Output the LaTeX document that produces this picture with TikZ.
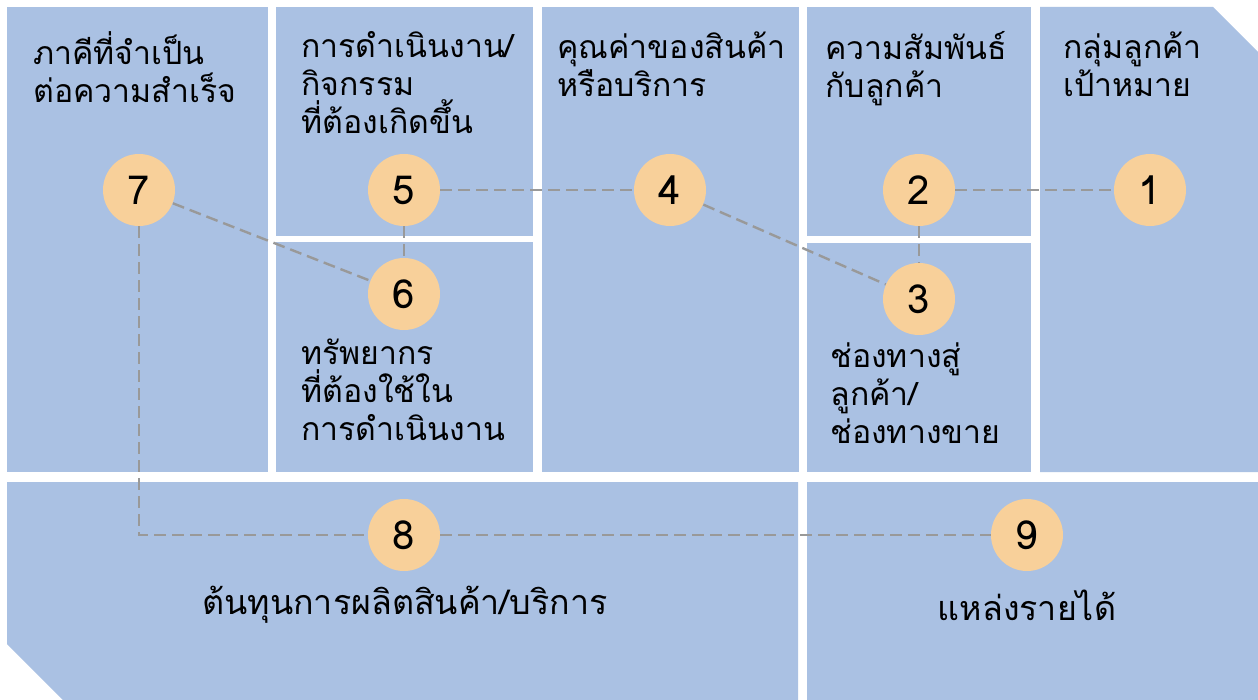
\documentclass[tikz,border=0pt]{standalone}
\usepackage{fontspec}
\setmainfont[Script=Thai]{Loma}
\usetikzlibrary{positioning}
\definecolor{boxblue}{HTML}{AAC1E3}
\definecolor{numfill}{HTML}{F8D09A}
\definecolor{linkgray}{HTML}{999999}

\begin{document}
\begin{tikzpicture}[x=0.5pt, y=-0.5pt,
    block/.style = {fill=boxblue},
    num/.style = {draw=none, circle, fill=numfill, minimum size=36pt, inner sep=0pt, font=\fontsize{20}{20}\selectfont},
    title/.style = {anchor=north west, inner sep=0pt, align=left, font=\fontsize{16}{19}\selectfont},
    link/.style = {draw=linkgray, line width=1.2pt, dash pattern=on 6pt off 3pt}]
          \useasboundingbox (0,0) rectangle (1258,700);
          % blocks
          \fill[block] (7,7) rectangle (268,472);
          \fill[block] (276,7) rectangle (533,236);
          \fill[block] (276,242) rectangle (533,472);
          \fill[block] (542,7) rectangle (799,472);
          \fill[block] (807,7) rectangle (1031,236);
          \fill[block] (807,243) rectangle (1031,472);
          \fill[block] (1040,7) -- (1213,7) -- (1258,52) -- (1258,472) -- (1040,472) -- cycle;
          \fill[block] (7,482) -- (798,482) -- (798,700) -- (63,700) -- (7,644) -- cycle;
          \fill[block] (807,482) rectangle (1258,700);

          % titles
          \node[title] (t_7) at (33,31) {ภาคีที่จำเป็น\\ต่อความสำเร็จ};
          \node[title] (t_5) at (301,31) {การดำเนินงาน/\\กิจกรรม\\ที่ต้องเกิดขึ้น};
          \node[title] (t_4) at (557,31) {คุณค่าของสินค้า\\หรือบริการ};
          \node[title] (t_2) at (825,31) {ความสัมพันธ์\\กับลูกค้า};
          \node[title] (t_1) at (1063,31) {กลุ่มลูกค้า\\เป้าหมาย};
          \node[title] (t_6) at (301,339) {ทรัพยากร\\ที่ต้องใช้ใน\\การดำเนินงาน};
          \node[title] (t_3) at (830,342) {ช่องทางสู่\\ลูกค้า/\\ช่องทางขาย};
          \node[inner sep=0pt, font=\fontsize{17}{19}\selectfont] (t_8) at (405,605) {ต้นทุนการผลิตสินค้า/บริการ};
          \node[inner sep=0pt, font=\fontsize{17}{19}\selectfont] (t_9) at (1027,605) {แหล่งรายได้};

          % numbers
          \node[num] (n_7) at (139,190) {7};
          \node[num] (n_5) at (404,190) {5};
          \node[num] (n_4) at (670,190) {4};
          \node[num] (n_2) at (919,190) {2};
          \node[num] (n_1) at (1150,190) {1};
          \node[num] (n_6) at (404,294) {6};
          \node[num] (n_3) at (919,299) {3};
          \node[num] (n_8) at (404,535) {8};
          \node[num] (n_9) at (1027,535) {9};

          \draw[link] (n_7) -- (n_6);
          \draw[link] (n_5) -- (n_6);
          \draw[link] (n_5) -- (n_4);
          \draw[link] (n_4) -- (n_3);
          \draw[link] (n_2) -- (n_1);
          \draw[link] (n_2) -- (n_3);
          \draw[link] (n_7) |- (n_8);
          \draw[link] (n_8) -- (n_9);
        \end{tikzpicture}
\end{document}
